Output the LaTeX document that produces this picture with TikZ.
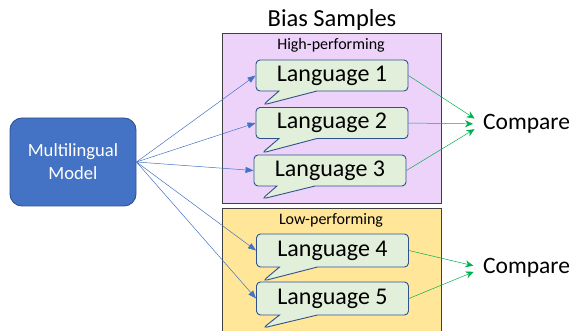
\documentclass[tikz,border=0pt]{standalone}
\usepackage{fontspec}
\setmainfont{Carlito}
\usepackage{xcolor}
\usetikzlibrary{shapes.callouts,arrows.meta}
\definecolor{modelblue}{HTML}{4472C4}
\definecolor{darkblue}{HTML}{2F528F}
\definecolor{lightpurple}{HTML}{EDD3FA}
\definecolor{lightyellow}{HTML}{FFE699}
\definecolor{lightgreen}{HTML}{E2EFDA}
\definecolor{cmpgreen}{HTML}{00B050}
\tikzstyle{langbox}=[rectangle callout,draw=darkblue,fill=lightgreen,line width=0.9pt,rounded corners=4pt,
  minimum width=152pt,minimum height=31pt,inner sep=0pt,font=\fontsize{24}{28}\selectfont,callout pointer width=38pt]
\tikzstyle{groupbox}=[draw=black!75,line width=0.9pt]
\tikzstyle{toarrow}=[draw=modelblue,line width=0.5pt,-{Triangle[length=8pt,width=6pt]}]
\tikzstyle{cmparrow}=[draw=cmpgreen,line width=0.5pt,-{Stealth[length=8pt,width=7pt]},shorten >=10pt]

\begin{document}
\begin{tikzpicture}[x=1pt,y=-1pt]
		\useasboundingbox (0,0) rectangle (573,331);
		% groups
		\fill[lightpurple] (222,33) rectangle (441,203);
		\draw[groupbox] (222,33) rectangle (441,203);
		\fill[lightyellow] (222,208) rectangle (441,334);
		\draw[groupbox] (222,334) -- (222,208) -- (441,208) -- (441,334);
		\node (title) at (332,20) {\fontsize{24.5}{28}\selectfont Bias Samples};
		\node (highLabel) at (331,45) {\fontsize{16}{19}\selectfont High-performing};
		\node (lowLabel) at (331,220) {\fontsize{16}{19}\selectfont Low-performing};
		
		% model
		\node [draw=darkblue,fill=modelblue,rounded corners=12pt,line width=0.9pt,minimum width=126pt,minimum height=88pt,
			text=white,align=center,font=\fontsize{18.6}{23}\selectfont] (model) at (73,162) {Multilingual\\Model};
		
		% languages
		\coordinate (tipOne) at (263,105);
		\coordinate (tipTwo) at (262,153);
		\coordinate (tipThree) at (262,199);
		\coordinate (tipFour) at (263,281);
		\coordinate (tipFive) at (263,328);
		\node [langbox,callout absolute pointer={(tipOne)}] (langOne) at (332,75.5) {Language 1};
		\node [langbox,callout absolute pointer={(tipTwo)}] (langTwo) at (332,123) {Language 2};
		\node [langbox,callout absolute pointer={(tipThree)}] (langThree) at (330,170.5) {Language 3};
		\node [langbox,minimum height=33pt,callout absolute pointer={(tipFour)}] (langFour) at (332.5,250.5) {Language 4};
		\node [langbox,minimum height=33pt,callout absolute pointer={(tipFive)}] (langFive) at (332.5,298.5) {Language 5};
		
		% compare
		\node [anchor=west,inner xsep=0pt,font=\fontsize{23.5}{27}\selectfont] (cmpHigh) at (483,124) {Compare};
		\node [anchor=west,inner xsep=0pt,font=\fontsize{23.5}{27}\selectfont] (cmpLow) at (483,268) {Compare};
		
		\draw[toarrow] (model.east) -- (langOne.west);
		\draw[toarrow] (model.east) -- (langTwo.west);
		\draw[toarrow] (model.east) -- (langThree.west);
		\draw[toarrow] (model.east) -- (langFour.west);
		\draw[toarrow] (model.east) -- (langFive.west);
		
		\draw[cmparrow] (langOne.east) -- (cmpHigh.west);
		\draw[cmparrow] (langTwo.east) -- (cmpHigh.west);
		\draw[cmparrow] (langThree.east) -- (cmpHigh.west);
		\draw[cmparrow] (langFour.east) -- (cmpLow.west);
		\draw[cmparrow] (langFive.east) -- (cmpLow.west);
	\end{tikzpicture}
\end{document}
